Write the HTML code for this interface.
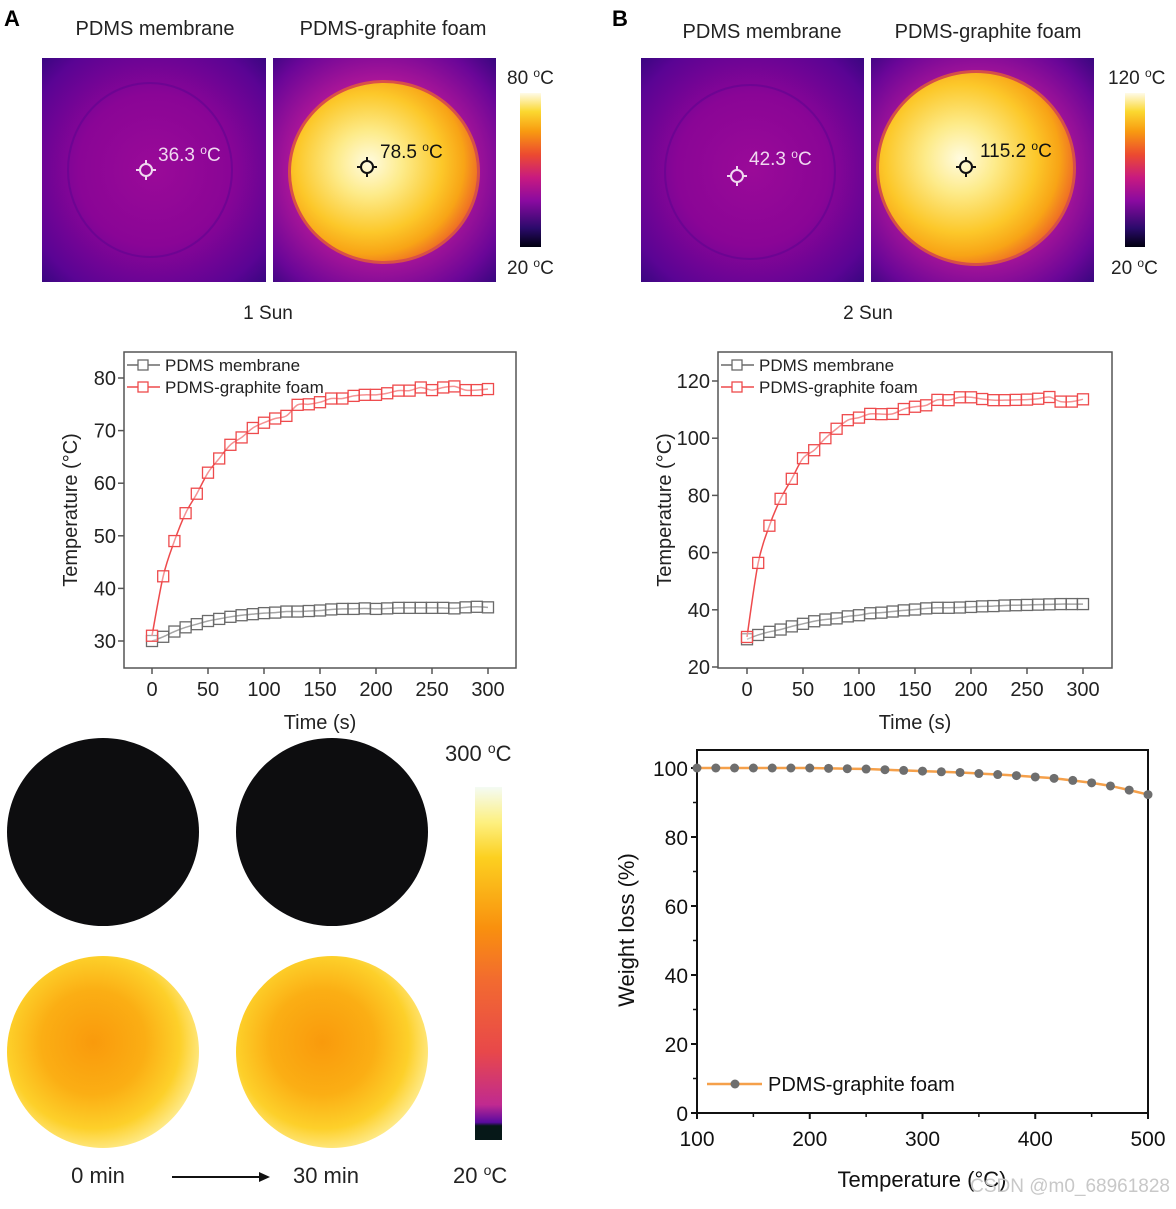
<!DOCTYPE html>
<html><head><meta charset="utf-8"><style>
html,body{margin:0;padding:0;background:#fff;}
svg text{font-family:"Liberation Sans",Arial,sans-serif;}
</style></head><body>
<svg id="fig" width="1176" height="1204" viewBox="0 0 1176 1204" xmlns="http://www.w3.org/2000/svg">
<defs>
  <radialGradient id="memGrad" cx="0.5" cy="0.5" r="0.75">
    <stop offset="0" stop-color="#9a0a98"/>
    <stop offset="0.45" stop-color="#8a0596"/>
    <stop offset="0.8" stop-color="#5a0494"/>
    <stop offset="1" stop-color="#2c0778"/>
  </radialGradient>
  <radialGradient id="foamBg" cx="0.48" cy="0.5" r="0.75">
    <stop offset="0" stop-color="#d23a5e"/>
    <stop offset="0.5" stop-color="#b21798"/>
    <stop offset="0.8" stop-color="#6a0698"/>
    <stop offset="1" stop-color="#2c0778"/>
  </radialGradient>
  <radialGradient id="foamHot" cx="0.42" cy="0.45" r="0.6">
    <stop offset="0" stop-color="#fffbe0"/>
    <stop offset="0.3" stop-color="#fdeb8a"/>
    <stop offset="0.65" stop-color="#fcc82a"/>
    <stop offset="0.85" stop-color="#f8a416"/>
    <stop offset="1" stop-color="#ee6a26"/>
  </radialGradient>
  <linearGradient id="cbTop" x1="0" y1="1" x2="0" y2="0">
    <stop offset="0" stop-color="#000010"/>
    <stop offset="0.12" stop-color="#2a0a6a"/>
    <stop offset="0.3" stop-color="#8a0aa0"/>
    <stop offset="0.45" stop-color="#c81a80"/>
    <stop offset="0.6" stop-color="#ec4a30"/>
    <stop offset="0.75" stop-color="#f89a10"/>
    <stop offset="0.88" stop-color="#fbd830"/>
    <stop offset="1" stop-color="#fffbe8"/>
  </linearGradient>
  <linearGradient id="cbBot" x1="0" y1="1" x2="0" y2="0">
    <stop offset="0" stop-color="#061818"/>
    <stop offset="0.04" stop-color="#061818"/>
    <stop offset="0.05" stop-color="#5a0aa0"/>
    <stop offset="0.1" stop-color="#c02a90"/>
    <stop offset="0.25" stop-color="#e8484a"/>
    <stop offset="0.45" stop-color="#f26a30"/>
    <stop offset="0.6" stop-color="#f9900e"/>
    <stop offset="0.8" stop-color="#fcd020"/>
    <stop offset="0.9" stop-color="#fdf080"/>
    <stop offset="1" stop-color="#f4fbf4"/>
  </linearGradient>
  <radialGradient id="yellowCircle" cx="0.45" cy="0.45" r="0.6">
    <stop offset="0" stop-color="#f99a0c"/>
    <stop offset="0.45" stop-color="#fbae14"/>
    <stop offset="0.75" stop-color="#fdd02a"/>
    <stop offset="1" stop-color="#fff0a0"/>
  </radialGradient>
</defs>

<text x="4" y="26" font-size="22" font-weight="bold">A</text>
<text x="612" y="26" font-size="22" font-weight="bold">B</text>

<text x="155" y="35" font-size="20" text-anchor="middle" fill="#222">PDMS membrane</text>
<text x="393" y="35" font-size="20" text-anchor="middle" fill="#222">PDMS-graphite foam</text>
<g>
  <rect x="42" y="58" width="224" height="224" fill="url(#memGrad)"/>
  <ellipse cx="150" cy="170" rx="82" ry="87" fill="none" stroke="#5a0490" stroke-width="2" opacity="0.5"/>
  <circle cx="146" cy="170" r="6" fill="none" stroke="#f0d8f0" stroke-width="2"/>
  <path d="M146 160v4M146 176v4M136 170h4M152 170h4" stroke="#f0d8f0" stroke-width="2"/>
  <text x="158" y="161" font-size="19" fill="#f0d8f0">36.3 <tspan font-size="12" dy="-7">o</tspan><tspan dy="7">C</tspan></text>
</g>
<g>
  <rect x="273" y="58" width="223" height="224" fill="url(#foamBg)"/>
  <ellipse cx="384" cy="172" rx="96" ry="92" fill="#ee6a26" opacity="0.7"/>
  <ellipse cx="384" cy="172" rx="93" ry="89" fill="url(#foamHot)"/>
  <circle cx="367" cy="167" r="6" fill="none" stroke="#111" stroke-width="2"/>
  <path d="M367 157v4M367 173v4M357 167h4M373 167h4" stroke="#111" stroke-width="2"/>
  <text x="380" y="158" font-size="19" fill="#111">78.5 <tspan font-size="12" dy="-7">o</tspan><tspan dy="7">C</tspan></text>
</g>
<rect x="520" y="93" width="21" height="154" fill="url(#cbTop)"/>
<text x="507" y="84" font-size="19" fill="#222">80 <tspan font-size="12" dy="-7">o</tspan><tspan dy="7">C</tspan></text>
<text x="507" y="274" font-size="19" fill="#222">20 <tspan font-size="12" dy="-7">o</tspan><tspan dy="7">C</tspan></text>
<text x="268" y="319" font-size="19" text-anchor="middle" fill="#222">1 Sun</text>

<text x="762" y="38" font-size="20" text-anchor="middle" fill="#222">PDMS membrane</text>
<text x="988" y="38" font-size="20" text-anchor="middle" fill="#222">PDMS-graphite foam</text>
<g>
  <rect x="641" y="58" width="223" height="224" fill="url(#memGrad)"/>
  <ellipse cx="750" cy="172" rx="85" ry="87" fill="none" stroke="#5a0490" stroke-width="2" opacity="0.5"/>
  <circle cx="737" cy="176" r="6" fill="none" stroke="#f0d8f0" stroke-width="2"/>
  <path d="M737 166v4M737 182v4M727 176h4M743 176h4" stroke="#f0d8f0" stroke-width="2"/>
  <text x="749" y="165" font-size="19" fill="#f0d8f0">42.3 <tspan font-size="12" dy="-7">o</tspan><tspan dy="7">C</tspan></text>
</g>
<g>
  <rect x="871" y="58" width="223" height="224" fill="url(#foamBg)"/>
  <ellipse cx="976" cy="168" rx="100" ry="98" fill="#ee6a26" opacity="0.7"/>
  <ellipse cx="976" cy="168" rx="97" ry="95" fill="url(#foamHot)"/>
  <circle cx="966" cy="167" r="6" fill="none" stroke="#111" stroke-width="2"/>
  <path d="M966 157v4M966 173v4M956 167h4M972 167h4" stroke="#111" stroke-width="2"/>
  <text x="980" y="157" font-size="19" fill="#111">115.2 <tspan font-size="12" dy="-7">o</tspan><tspan dy="7">C</tspan></text>
</g>
<rect x="1125" y="93" width="20" height="154" fill="url(#cbTop)"/>
<text x="1108" y="84" font-size="19" fill="#222">120 <tspan font-size="12" dy="-7">o</tspan><tspan dy="7">C</tspan></text>
<text x="1111" y="274" font-size="19" fill="#222">20 <tspan font-size="12" dy="-7">o</tspan><tspan dy="7">C</tspan></text>
<text x="868" y="319" font-size="19" text-anchor="middle" fill="#222">2 Sun</text>

<ellipse cx="103" cy="832" rx="96" ry="94" fill="#0d0d0f"/>
<ellipse cx="332" cy="832" rx="96" ry="94" fill="#0d0d0f"/>
<ellipse cx="103" cy="1052" rx="96" ry="96" fill="url(#yellowCircle)"/>
<ellipse cx="332" cy="1052" rx="96" ry="96" fill="url(#yellowCircle)"/>
<rect x="475" y="787" width="27" height="353" fill="url(#cbBot)"/>
<text x="445" y="761" font-size="22" fill="#222">300 <tspan font-size="14" dy="-8">o</tspan><tspan dy="8">C</tspan></text>
<text x="453" y="1183" font-size="22" fill="#222">20 <tspan font-size="14" dy="-8">o</tspan><tspan dy="8">C</tspan></text>
<text x="98" y="1183" font-size="22" text-anchor="middle" fill="#222">0 min</text>
<text x="326" y="1183" font-size="22" text-anchor="middle" fill="#222">30 min</text>
<g>
  <line x1="172" y1="1177" x2="262" y2="1177" stroke="#111" stroke-width="2"/>
  <path d="M270 1177 L259 1172 L259 1182 Z" fill="#111"/>
</g>

<g id="chartA"></g>
<g id="chartB"></g>
<g id="chartC"></g>
<text x="1170" y="1192" font-size="19" text-anchor="end" fill="#c8c8c8">CSDN @m0_68961828</text>
</svg>
<script>
const timesA = [0,10,20,30,40,50,60,70,80,90,100,110,120,130,140,150,160,170,180,190,200,210,220,230,240,250,260,270,280,290,300];
const membraneA = [30,30.8,31.8,32.6,33.2,33.8,34.2,34.6,34.9,35.1,35.3,35.4,35.6,35.6,35.7,35.8,36,36.1,36.1,36.2,36.1,36.2,36.3,36.3,36.3,36.3,36.3,36.2,36.4,36.5,36.4];
const foamA = [31,42.3,49,54.3,58,62,64.7,67.3,68.7,70.5,71.5,72.3,72.8,74.9,75,75.4,76.1,76.1,76.6,76.8,76.8,77.1,77.6,77.6,78.2,77.7,78.2,78.4,77.7,77.7,77.9];
const xTicksA = [0,50,100,150,200,250,300];
const yTicksA = [30,40,50,60,70,80];
const timesB = [0,10,20,30,40,50,60,70,80,90,100,110,120,130,140,150,160,170,180,190,200,210,220,230,240,250,260,270,280,290,300];
const membraneB = [29.7,31.2,32.3,33.1,34.2,35.1,36,36.6,37,37.7,38.1,38.8,39,39.4,39.8,40.1,40.5,40.7,40.7,40.8,41,41.2,41.3,41.5,41.6,41.7,41.8,41.9,42,42,42];
const foamB = [30.5,56.4,69.4,78.8,85.8,93,95.8,100,103.3,106.3,107.2,108.5,108.4,108.5,110.2,111,111.5,113.4,113.3,114.3,114.3,113.7,113.3,113.3,113.4,113.5,113.8,114.4,112.8,112.8,113.6];
const xTicksB = [0,50,100,150,200,250,300];
const yTicksB = [20,40,60,80,100,120];
const tempsC = [100,116.7,133.3,150,166.7,183.3,200,216.7,233.3,250,266.7,283.3,300,316.7,333.3,350,366.7,383.3,400,416.7,433.3,450,466.7,483.3,500];
const weightC = [100,100,100,100,100,100,100,99.9,99.8,99.7,99.5,99.3,99.1,98.9,98.7,98.4,98.1,97.8,97.4,97.0,96.4,95.7,94.8,93.6,92.3];
const xTicksC = [100,200,300,400,500];
const yTicksC = [0,20,40,60,80,100];

const NS = "http://www.w3.org/2000/svg";
function mk(parent, tag, attrs, txt){
  const e = document.createElementNS(NS, tag);
  for (const k in attrs) e.setAttribute(k, attrs[k]);
  if (txt !== undefined) e.textContent = txt;
  parent.appendChild(e);
  return e;
}
function smoothPath(pts){
  let d = "M" + pts[0][0] + " " + pts[0][1];
  for (let i = 0; i < pts.length - 1; i++){
    const p0 = pts[Math.max(0,i-1)], p1 = pts[i], p2 = pts[i+1], p3 = pts[Math.min(pts.length-1,i+2)];
    const c1x = p1[0] + (p2[0]-p0[0])/6, c1y = p1[1] + (p2[1]-p0[1])/6;
    const c2x = p2[0] - (p3[0]-p1[0])/6, c2y = p2[1] - (p3[1]-p1[1])/6;
    d += " C" + c1x + " " + c1y + " " + c2x + " " + c2y + " " + p2[0] + " " + p2[1];
  }
  return d;
}

function tempChart(g, o){
  const xs = v => o.x0 + (v - o.xmin) * (o.x1 - o.x0) / (o.xmax - o.xmin);
  const ys = v => o.y0 - (v - o.ymin) * (o.y0 - o.y1) / (o.ymax - o.ymin);
  const frame = mk(g, "rect", {x:o.fl, y:o.ft, width:o.fr-o.fl, height:o.fb-o.ft, fill:"none", stroke:"#555", "stroke-width":1.5});
  
  
  o.xt.forEach(v => {
    mk(g, "line", {x1:xs(v), x2:xs(v), y1:o.fb, y2:o.fb+6, stroke:"#555", "stroke-width":1.5});
    const t = mk(g, "text", {x:xs(v), y:o.fb+28, "font-size":20, "text-anchor":"middle", fill:"#222"}, v);
    
    
  });
  o.yt.forEach(v => {
    mk(g, "line", {x1:o.fl-6, x2:o.fl, y1:ys(v), y2:ys(v), stroke:"#555", "stroke-width":1.5});
    const t = mk(g, "text", {x:o.fl-8, y:ys(v)+7, "font-size":20, "text-anchor":"end", fill:"#222"}, v);
    
    
  });
  const xl = mk(g, "text", {x:(o.fl+o.fr)/2, y:o.fb+61, "font-size":20, "text-anchor":"middle", fill:"#222"}, "Time (s)");
  
  
  const yx = o.fl - 47, yy = (o.ft+o.fb)/2;
  const yl = mk(g, "text", {x:yx, y:yy, "font-size":20, "text-anchor":"middle", fill:"#222", transform:"rotate(-90 "+yx+" "+yy+")"}, "Temperature (\u00B0C)");
  
  
  const series = [[o.mem, "#6a6a6a", "membrane"], [o.foam, "#ee4a4c", "foam"]];
  series.forEach(s => {
    const pts = o.t.map((t,i) => [xs(t), ys(s[0][i])]);
    const ln = mk(g, "path", {d:smoothPath(pts), fill:"none", stroke:s[1], "stroke-width":1.5});
    
    
    pts.forEach(p => {
      const m = mk(g, "rect", {x:p[0]-5.5, y:p[1]-5.5, width:11, height:11, fill:"#fff", "fill-opacity":0.4, stroke:s[1], "stroke-width":1.3});
      
      
    });
  });
  const leg = [["PDMS membrane", "#6a6a6a", o.ft+13], ["PDMS-graphite foam", "#ee4a4c", o.ft+35]];
  leg.forEach(l => {
    const lg = mk(g, "g", {});
    
    
    mk(lg, "line", {x1:o.fl+3, x2:o.fl+36, y1:l[2], y2:l[2], stroke:l[1], "stroke-width":1.5});
    mk(lg, "rect", {x:o.fl+14, y:l[2]-5, width:10, height:10, fill:"#fff", stroke:l[1], "stroke-width":1.3});
    mk(lg, "text", {x:o.fl+41, y:l[2]+6, "font-size":17, fill:"#222"}, l[0]);
  });
}

tempChart(document.getElementById("chartA"), {t:timesA, mem:membraneA, foam:foamA, xt:xTicksA, yt:yTicksA,
  xmin:0, xmax:300, x0:152, x1:488, ymin:30, ymax:80, y0:641, y1:378, fl:124, fr:516, ft:352, fb:668});
tempChart(document.getElementById("chartB"), {t:timesB, mem:membraneB, foam:foamB, xt:xTicksB, yt:yTicksB,
  xmin:0, xmax:300, x0:747, x1:1083, ymin:20, ymax:120, y0:667, y1:381, fl:718, fr:1112, ft:352, fb:668});

(function(){
  const g = document.getElementById("chartC");
  const fl = 697, fr = 1148, ft = 750, fb = 1113;
  const xs = v => fl + (v - 100) * (fr - fl) / 400;
  const ys = v => fb - v * (fb - 768) / 100;
  const frame = mk(g, "rect", {x:fl, y:ft, width:fr-fl, height:fb-ft, fill:"none", stroke:"#111", "stroke-width":2});
  
  
  xTicksC.forEach((v, i) => {
    mk(g, "line", {x1:xs(v), x2:xs(v), y1:fb, y2:fb+6, stroke:"#111", "stroke-width":2});
    if (i < xTicksC.length - 1) mk(g, "line", {x1:xs(v+50), x2:xs(v+50), y1:fb, y2:fb+4, stroke:"#111", "stroke-width":1.5});
    const t = mk(g, "text", {x:xs(v), y:fb+33, "font-size":21, "text-anchor":"middle", fill:"#111"}, v);
    
    
  });
  yTicksC.forEach((v, i) => {
    mk(g, "line", {x1:fl-6, x2:fl, y1:ys(v), y2:ys(v), stroke:"#111", "stroke-width":2});
    if (i < yTicksC.length - 1) mk(g, "line", {x1:fl-4, x2:fl, y1:ys(v+10), y2:ys(v+10), stroke:"#111", "stroke-width":1.5});
    const t = mk(g, "text", {x:fl-9, y:ys(v)+8, "font-size":21, "text-anchor":"end", fill:"#111"}, v);
    
    
  });
  const xl = mk(g, "text", {x:922, y:1187, "font-size":22, "text-anchor":"middle", fill:"#111"}, "Temperature (\u00B0C)");
  
  
  const yl = mk(g, "text", {x:634, y:930, "font-size":22, "text-anchor":"middle", fill:"#111", transform:"rotate(-90 634 930)"}, "Weight loss (%)");
  
  
  const pts = tempsC.map((t,i) => [xs(t), ys(weightC[i])]);
  const ln = mk(g, "path", {d:smoothPath(pts), fill:"none", stroke:"#f5a04a", "stroke-width":2.5});
  
  
  pts.forEach(p => {
    const c = mk(g, "circle", {cx:p[0], cy:p[1], r:4.5, fill:"#6e6e6e"});
    
    
  });
  const lg = mk(g, "g", {});
  
  
  mk(lg, "line", {x1:707, x2:762, y1:1084, y2:1084, stroke:"#f5a04a", "stroke-width":2.5});
  mk(lg, "circle", {cx:735, cy:1084, r:4.5, fill:"#6e6e6e"});
  mk(lg, "text", {x:768, y:1091, "font-size":20, fill:"#111"}, "PDMS-graphite foam");
})();
</script>
</body></html>
